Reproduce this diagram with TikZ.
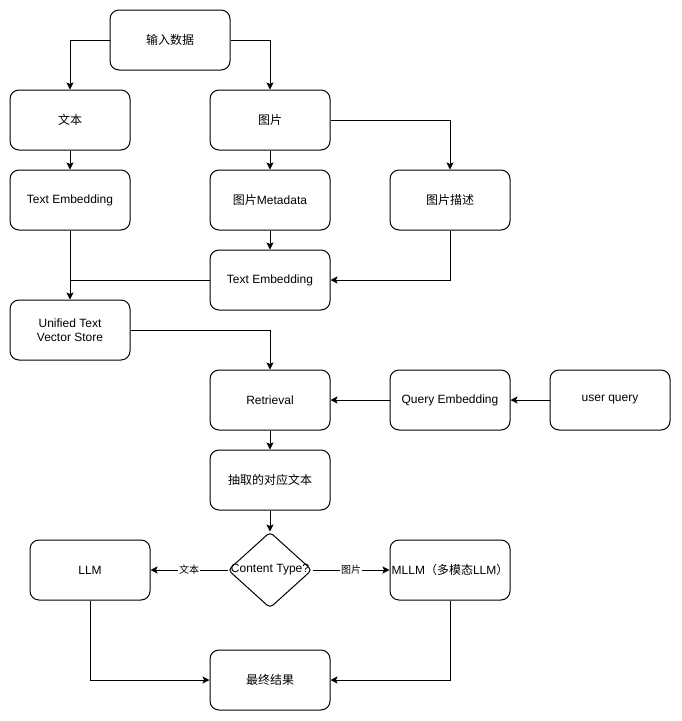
\documentclass[tikz,border=0pt]{standalone}
\usepackage{fontspec}
\setmainfont{Liberation Sans}
\newfontfamily\cjk{Noto Sans CJK SC}
\newcommand{\zh}[1]{{\cjk #1}}
\usetikzlibrary{shapes.geometric,arrows.meta}
\begin{document}
\begin{tikzpicture}[x=1pt,y=-1pt,
  font=\fontsize{12pt}{14pt}\selectfont,
  box/.style={draw,line width=1pt,rectangle,rounded corners=9pt,minimum width=120pt,minimum height=60pt,inner sep=0pt,align=center},
  dec/.style={draw,line width=1pt,diamond,rounded corners=4pt,minimum width=84pt,minimum height=76pt,inner sep=0pt},
  arr/.style={draw,line width=1pt,-{Stealth[length=7pt,width=7pt,inset=1.5pt]}},
  ln/.style={draw,line width=1pt},
  lbl/.style={fill=white,inner sep=1pt,font=\fontsize{10pt}{12pt}\selectfont}]
\useasboundingbox (0,0) rectangle (681,721);
\node[box] (in) at (170,40) {\zh{输入数据}};
\node[box] (wb) at (70,120) {\zh{文本}};
\node[box] (tp) at (270,120) {\zh{图片}};
\node[box] (te1) at (70,200) {Text Embedding};
\node[box] (meta) at (270,200) {\zh{图片}Metadata};
\node[box] (desc) at (450,200) {\zh{图片描述}};
\node[box] (te2) at (270,280) {Text Embedding};
\node[box] (store) at (70,330) {Unified Text\\Vector Store};
\node[box] (ret) at (270,400) {Retrieval};
\node[box] (qe) at (450,400) {Query Embedding};
\node[box] (uq) at (610,400) {user query};
\node[box] (ext) at (270,480) {\zh{抽取的对应文本}};
\node[dec] (dia) at (270,570) {};
\node (diat) at (270,570) {Content Type?};
\node[box] (llm) at (90,570) {LLM};
\node[box] (mllm) at (450,570) {MLLM\zh{（多模态}LLM\zh{）}};
\node[box] (res) at (270,680) {\zh{最终结果}};
\coordinate (j) at (te1.south |- te2.west);
\draw[arr] (in.west) -| (wb.north);
\draw[arr] (in.east) -| (tp.north);
\draw[arr] (wb) -- (te1);
\draw[arr] (tp) -- (meta);
\draw[arr] (tp.east) -| (desc.north);
\draw[arr] (meta) -- (te2);
\draw[arr] (desc.south) |- (te2.east);
\draw[arr] (te1) -- (store);
\draw[ln] (te2.west) -- (j);
\draw[arr] (store.east) -| (ret.north);
\draw[arr] (qe) -- (ret);
\draw[arr] (uq) -- (qe);
\draw[arr] (ret) -- (ext);
\draw[arr] (ext) -- (dia);
\draw[arr] (dia.west) -- node[lbl]{\zh{文本}} (llm.east);
\draw[arr] (dia.east) -- node[lbl]{\zh{图片}} (mllm.west);
\draw[arr] (llm.south) |- (res.west);
\draw[arr] (mllm.south) |- (res.east);
\end{tikzpicture}
\end{document}
